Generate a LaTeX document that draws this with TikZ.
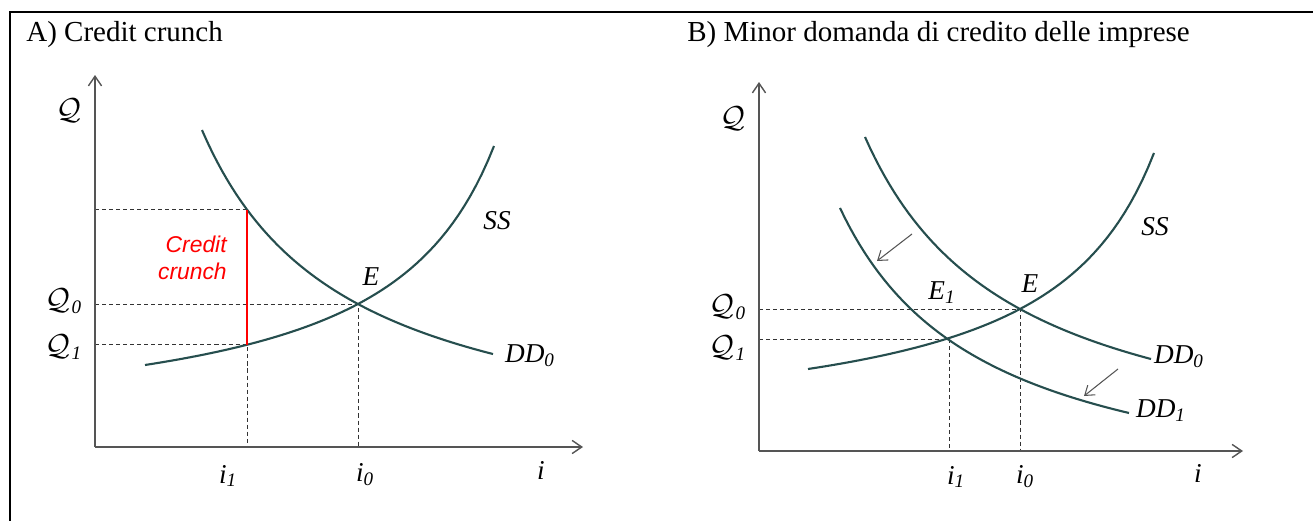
\documentclass[tikz,border=0pt]{standalone}
\usepackage{fontspec}
\setmainfont{Liberation Serif}
\newfontfamily\crunchfont{Liberation Sans}
\usepackage{tikz}
\usetikzlibrary{arrows.meta}
\definecolor{curvecol}{RGB}{38,78,78}
\definecolor{axiscol}{RGB}{85,85,85}
\newcommand{\qlab}[1]{{\fontsize{17}{20}\selectfont$\mathcal{Q}$}\kern0.5pt\textsubscript{#1}}

\begin{document}
\begin{tikzpicture}[x=0.02cm,y=-0.02cm,
  curve/.style={curvecol,line width=1.2pt},
  axis/.style={axiscol,line width=0.8pt,-{Straight Barb[length=5.5pt,width=7.5pt]}},
  guide/.style={black!80,line width=0.55pt,dash pattern=on 2.3pt off 1.7pt},
  shiftarrow/.style={axiscol,line width=0.6pt,-{Straight Barb[length=5pt,width=7pt]}},
  lab/.style={font=\fontsize{15.5}{18}\selectfont\itshape,inner sep=0pt},
  title/.style={font=\fontsize{16.5}{20}\selectfont,anchor=base west,inner sep=0pt}]
\useasboundingbox (0,0) rectangle (1313,521);
\draw[line width=1.4pt] (10,521)--(10,12)--(1313,12);
\node[title] (tA) at (26,41) {A) Credit crunch};
\node[title] (tB) at (687,41) {B) Minor domanda di credito delle imprese};
\coordinate (oA) at (95,447); \coordinate (yA) at (95,75); \coordinate (xA) at (583,447);
\coordinate (eA) at (358,304); \coordinate (cA) at (247,209.6); \coordinate (sA) at (247,344.8);
\draw[guide] (cA -| oA)--(cA); \draw[guide] (eA -| oA)--(eA)--(eA |- oA); \draw[guide] (sA -| oA)--(sA)--(sA |- oA);
\draw[axis] (oA)--(yA); \draw[axis] (oA)--(xA);
\draw[curve] plot[domain=202:493,samples=60] (\x,{465.4-485.24/((\x-57.3)/100)});
\draw[curve] plot[domain=145:494,samples=60] (\x,{436.65-331.9/((608.2-\x)/100)});
\draw[red,line width=1.5pt] (cA)--(sA);
\node[font=\crunchfont\itshape\fontsize{13}{15.3}\selectfont,text=red,align=right,anchor=north east,inner sep=0pt] (cc) at (227,236) {Credit\\crunch};
\node[lab] (qA) at (70,111) {\qlab{}}; \node[lab] (q0A) at (64,301) {\qlab{0}}; \node[lab] (q1A) at (64,347) {\qlab{1}};
\node[lab] (i1A) at (228,476) {i\textsubscript{1}}; \node[lab] (i0A) at (365,475) {i\textsubscript{0}}; \node[lab] (iA) at (541,470) {i};
\node[lab] (EA) at (371,277) {E}; \node[lab] (ssA) at (497,221) {SS}; \node[lab] (ddA) at (530,356) {DD\textsubscript{0}};
\coordinate (oB) at (759,451); \coordinate (yB) at (759,82); \coordinate (xB) at (1243,451);
\coordinate (eB) at (1020,309); \coordinate (e1B) at (949,339);
\draw[guide] (eB -| oB)--(eB)--(eB |- oB); \draw[guide] (e1B -| oB)--(e1B)--(e1B |- oB);
\draw[axis] (oB)--(yB); \draw[axis] (oB)--(xB);
\draw[curve] plot[domain=865:1151,samples=60] (\x,{475.4-507.29/((\x-715.1)/100)});
\draw[curve] plot[domain=840:1129,samples=60] (\x,{516.2-448.45/((\x-694.5)/100)});
\draw[curve] plot[domain=808:1154,samples=60] (\x,{438.37-317.08/((1265.1-\x)/100)});
\coordinate (a1s) at (912,234); \coordinate (a1e) at (877,261); \coordinate (a2s) at (1118,369); \coordinate (a2e) at (1084,396);
\draw[shiftarrow] (a1s)--(a1e); \draw[shiftarrow] (a2s)--(a2e);
\node[lab] (qB) at (734,119) {\qlab{}}; \node[lab] (q0B) at (728,307) {\qlab{0}}; \node[lab] (q1B) at (728,348) {\qlab{1}};
\node[lab] (i1B) at (956,477) {i\textsubscript{1}}; \node[lab] (i0B) at (1025,477) {i\textsubscript{0}}; \node[lab] (iB) at (1198,473) {i};
\node[lab] (EB) at (1030,284) {E}; \node[lab] (E1B) at (942,293) {E\textsubscript{1}}; \node[lab] (ssB) at (1155,227) {SS};
\node[lab] (dd0B) at (1179,357) {DD\textsubscript{0}}; \node[lab] (dd1B) at (1161,411) {DD\textsubscript{1}};
\end{tikzpicture}
\end{document}
